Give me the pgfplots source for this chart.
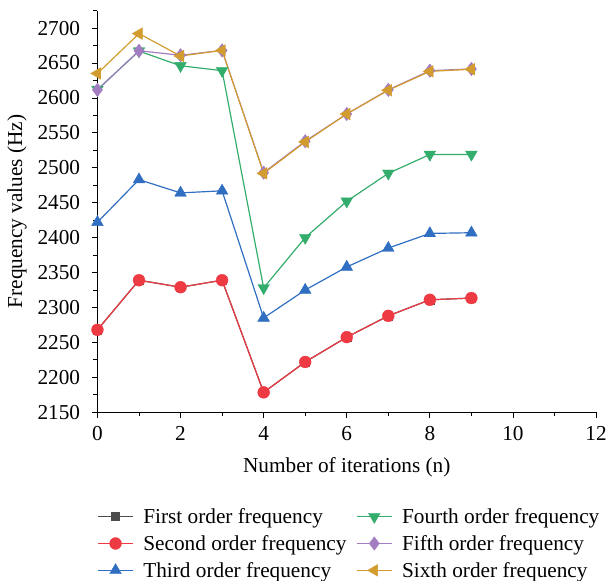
\documentclass[border=0pt]{standalone}
\usepackage{pgfplots}
\pgfplotsset{compat=1.18}
\usepackage{fontspec}
\setmainfont{Liberation Serif}
\definecolor{cblack}{HTML}{4D4D4D}
\definecolor{cred}{HTML}{EE3A43}
\definecolor{cblue}{HTML}{2F6EC1}
\definecolor{cgreen}{HTML}{33AD6B}
\definecolor{cpurple}{HTML}{A37DC2}
\definecolor{corange}{HTML}{D39C2F}
\begin{document}
\begin{tikzpicture}
\begin{axis}[
  scale only axis,
  width=504pt, height=406pt,
  xmin=0, xmax=12, ymin=2150, ymax=2725,
  axis lines*=left,
  axis line style={line width=1pt},
  xtick={0,2,...,12}, minor xtick={1,3,...,11},
  ytick={2150,2200,...,2700}, minor ytick={2175,2225,...,2725},
  tick align=outside,
  major tick length=6pt, minor tick length=4pt,
  tick style={line width=0.8pt, black},
  /pgf/number format/assume math mode=true,
  /pgf/number format/1000 sep={},
  ticklabel style={font=\fontsize{21.5}{25}\selectfont},
  yticklabel style={xshift=-8pt},
  xticklabel style={yshift=-5pt},
  label style={font=\fontsize{21.5}{25}\selectfont},
  xlabel={Number of iterations (n)},
  xlabel style={yshift=-10pt},
  ylabel={Frequency values (Hz)},
  ylabel style={yshift=4pt, name=yl},
  clip=false,
  legend columns=3,
  transpose legend,
  legend cell align=left,
  legend style={draw=none, fill=none, at={(0,0)}, anchor=north west,
    yshift=-95pt, inner xsep=0pt, inner ysep=0pt,
    font=\fontsize{21.5}{25}\selectfont,
    /tikz/every even column/.append style={column sep=8pt},
    /tikz/every odd column/.append style={column sep=8pt},
    row sep=6.5pt},
  legend image code/.code={
    \draw[mark repeat=2,mark phase=2] plot coordinates {(0pt,0pt) (17.5pt,0pt) (35pt,0pt)};},
  every axis plot/.append style={line width=1.2pt},
]
\addplot[color=cblack, mark=square*, mark size=4pt, mark options={line width=0.4pt}] coordinates {
(0,2268) (1,2339) (2,2329) (3,2339) (4,2178.5) (5,2222) (6,2257.5) (7,2288) (8,2311) (9,2313.5)};
\addlegendentry{First order frequency}
\addplot[color=cred, mark=*, mark size=6pt, mark options={line width=0.4pt}] coordinates {
(0,2268) (1,2339) (2,2329) (3,2339) (4,2178.5) (5,2222) (6,2257.5) (7,2288) (8,2311) (9,2313.5)};
\addlegendentry{Second order frequency}
\addplot[color=cblue, mark=triangle*, mark size=6.8pt, mark options={line width=0.4pt}] coordinates {
(0,2422) (1,2483) (2,2464) (3,2467) (4,2285) (5,2325) (6,2358) (7,2385) (8,2406) (9,2407)};
\addlegendentry{Third order frequency}
\addplot[color=cgreen, mark=triangle*, mark options={rotate=180, line width=0.4pt}, mark size=6.8pt] coordinates {
(0,2612) (1,2667) (2,2646) (3,2639) (4,2328) (5,2400) (6,2452) (7,2492) (8,2519) (9,2519)};
\addlegendentry{Fourth order frequency}
\addplot[color=cpurple, mark=diamond*, mark size=6.8pt, mark options={line width=0.4pt}] coordinates {
(0,2611.5) (1,2667.5) (2,2661) (3,2668) (4,2493) (5,2538) (6,2577) (7,2611.5) (8,2639) (9,2641.5)};
\addlegendentry{Fifth order frequency}
\addplot[color=corange, mark=triangle*, mark options={rotate=90, line width=0.4pt}, mark size=6.8pt] coordinates {
(0,2635) (1,2692) (2,2660) (3,2668) (4,2492) (5,2537) (6,2577) (7,2611) (8,2638) (9,2641)};
\addlegendentry{Sixth order frequency}
\end{axis}
\path ([yshift=10.7pt]current axis.north);
\path ([xshift=-4pt]yl.north);
\end{tikzpicture}
\end{document}
